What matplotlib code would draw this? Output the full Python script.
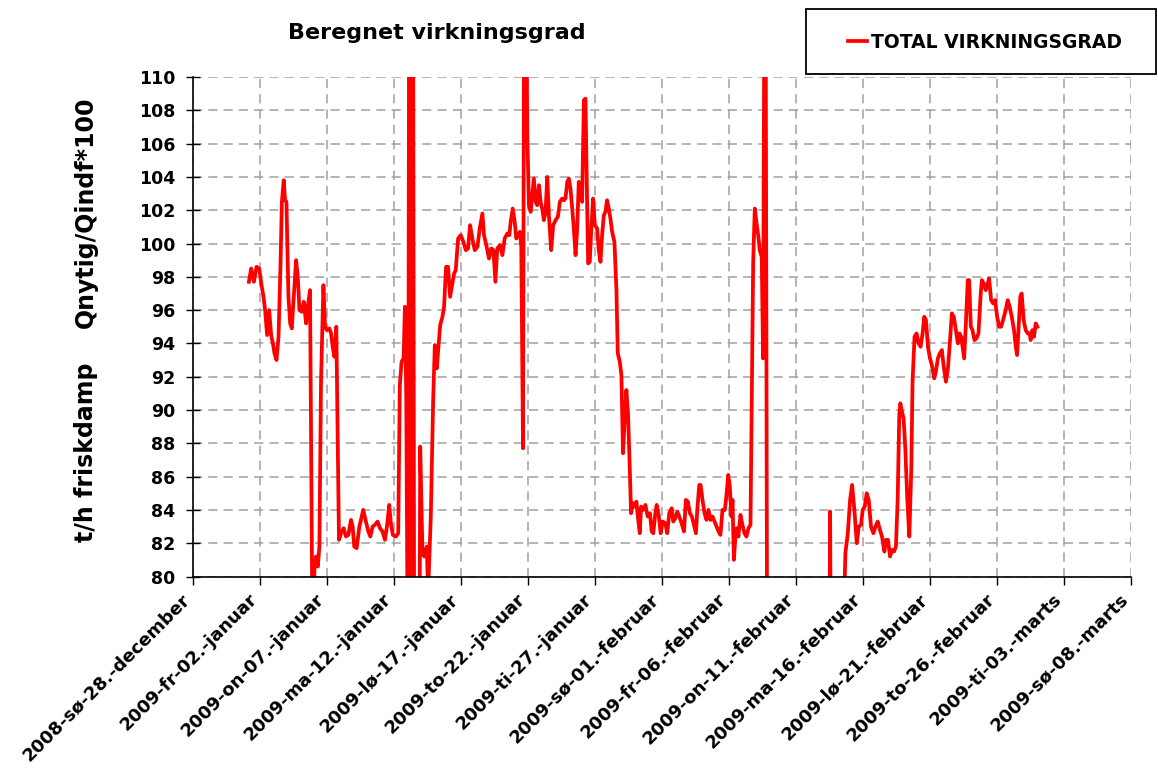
import numpy as np
import matplotlib.pyplot as plt
from matplotlib.patches import Rectangle
from matplotlib.transforms import ScaledTranslation

# days after 2008-12-28
dage1 = [4.17, 4.34, 4.54, 4.74, 4.94, 5.09, 5.26, 5.38, 5.53, 5.68, 5.83, 5.96, 6.08, 6.23, 6.38, 6.53,
         6.63, 6.77, 6.87, 6.97, 7.12, 7.25, 7.37, 7.52, 7.69, 7.82, 7.94, 8.11, 8.26, 8.44, 8.56, 8.73,
         8.90, 9.00, 9.06, 9.18, 9.31, 9.43, 9.55, 9.73, 9.85, 9.98, 10.17, 10.30, 10.42, 10.55, 10.69,
         10.79, 10.89, 11.04, 11.24, 11.41, 11.59, 11.79, 11.91, 12.03, 12.21, 12.41, 12.53, 12.70,
         12.90, 13.08, 13.23, 13.40, 13.57, 13.77, 13.95, 14.14, 14.32, 14.47, 14.64, 14.76, 14.91,
         15.14, 15.31, 15.43, 15.56, 15.71, 15.81, 15.91, 16.00, 16.05, 16.12, 16.20, 16.27, 16.33,
         16.42, 16.50, 16.90, 16.95, 17.12, 17.25, 17.44, 17.54, 17.74, 17.92, 18.04, 18.19, 18.31,
         18.44, 18.61, 18.73, 18.88, 19.03, 19.18, 19.35, 19.48, 19.60, 19.78, 19.98, 20.17, 20.35,
         20.52, 20.67, 20.84, 21.02, 21.22, 21.39, 21.59, 21.71, 21.91, 22.08, 22.26, 22.41, 22.56,
         22.70, 22.90, 23.08, 23.25, 23.45, 23.60, 23.70, 23.85, 24.00, 24.12, 24.24, 24.39, 24.49,
         24.62, 24.69, 24.89, 24.94, 25.06, 25.19, 25.31, 25.43, 25.56, 25.68, 25.81, 25.93, 26.05,
         26.18, 26.30, 26.43, 26.55, 26.72, 26.87, 27.05, 27.22, 27.37, 27.54, 27.67, 27.79, 27.92,
         28.04, 28.16, 28.29, 28.41, 28.54, 28.66, 28.78, 28.91, 29.03, 29.16, 29.28, 29.40, 29.48,
         29.60, 29.73, 29.85, 29.98, 30.15, 30.27, 30.40, 30.52, 30.65, 30.77, 30.89, 31.02, 31.14,
         31.27, 31.44, 31.59, 31.69, 31.84, 31.96, 32.08, 32.21, 32.33, 32.46, 32.58, 32.68, 32.83,
         32.95, 33.08, 33.20, 33.33, 33.43, 33.57, 33.75, 33.92, 34.09, 34.22, 34.34, 34.49, 34.59,
         34.74, 34.89, 35.04, 35.24, 35.38, 35.53, 35.71, 35.83, 35.98, 36.13, 36.28, 36.45, 36.63,
         36.77, 36.92, 37.07, 37.22, 37.37, 37.52, 37.62, 37.77, 37.87, 38.01, 38.16, 38.31, 38.46,
         38.61, 38.76, 38.91, 39.06, 39.21, 39.35, 39.50, 39.68, 39.80, 39.93, 40.05, 40.17, 40.25,
         40.35, 40.45, 40.55, 40.69, 40.84, 40.99, 41.14, 41.29, 41.44, 41.59, 41.69, 41.79, 41.91,
         42.03, 42.18, 42.28, 42.43, 42.53, 42.61, 42.73, 42.83]
vaerdi1 = [97.7, 98.5, 97.7, 98.6, 98.5, 97.6, 96.8, 96.0, 94.5, 96.0, 94.5, 94.0, 93.4, 93.0, 94.4, 98.8,
           102.5, 103.8, 102.6, 102.5, 96.8, 95.2, 94.9, 96.8, 99.0, 98.0, 96.0, 95.9, 96.5, 95.2, 96.2, 97.2,
           78.0, 78.5, 80.4, 81.2, 80.6, 81.8, 91.7, 97.5, 95.0, 94.8, 94.9, 94.6, 93.8, 93.2, 95.0,
           88.7, 82.2, 82.6, 82.9, 82.4, 82.5, 83.4, 83.0, 81.8, 81.7, 83.0, 83.4, 84.0,
           83.3, 82.7, 82.4, 83.0, 83.1, 83.3, 82.9, 82.7, 82.2, 83.0, 84.3, 83.2, 82.5,
           82.4, 82.6, 91.5, 92.9, 93.1, 96.2, 90.7, 78.0, 78.0, 115.0, 115.0, 75.0, 115.0,
           115.0, 75.0, 75.0, 87.8, 81.4, 81.2, 81.8, 79.0, 83.6, 90.7, 93.9, 92.5, 93.8,
           95.1, 95.6, 96.2, 98.6, 98.6, 96.8, 97.6, 98.2, 98.4, 100.3, 100.5, 100.1, 99.6,
           99.7, 101.1, 100.3, 99.6, 99.8, 100.9, 101.8, 100.5, 99.8, 99.1, 99.7, 99.6, 97.7,
           99.7, 99.9, 99.3, 100.3, 100.6, 100.5, 101.3, 102.1, 101.3, 100.3, 100.5, 100.7, 99.8,
           87.7, 112.0, 112.0, 106.5, 102.3, 101.9, 102.9, 103.9, 102.5, 102.3, 103.5, 102.5, 102.1,
           101.4, 101.9, 104.0, 101.7, 99.6, 101.1, 101.4, 101.6, 102.5, 102.7, 102.6, 102.7, 103.7,
           103.9, 103.3, 102.1, 100.9, 99.3, 100.9, 103.7, 103.3, 102.5, 108.6, 108.7, 102.5, 98.8,
           98.9, 101.1, 102.7, 101.1, 100.9, 99.6, 98.9, 100.5, 101.7, 101.9, 102.6, 102.1, 101.5,
           100.7, 100.1, 97.2, 93.4, 92.9, 92.1, 87.4, 89.5, 91.2, 89.7, 86.6, 83.8, 84.4,
           84.2, 84.5, 83.5, 82.6, 84.2, 84.0, 84.3, 83.6, 83.8, 82.7, 82.6, 83.8, 84.3,
           83.7, 82.6, 83.3, 83.2, 82.6, 83.8, 84.1, 83.3, 83.5, 83.9, 83.6, 83.2, 82.7,
           84.6, 84.5, 83.8, 83.6, 83.1, 82.6, 84.0, 85.5, 85.5, 84.6, 83.8, 83.4, 84.0,
           83.4, 83.6, 83.3, 83.0, 82.7, 82.5, 84.0, 84.0, 84.9, 86.1, 85.4, 83.6, 84.6,
           81.0, 82.2, 82.9, 82.4, 83.7, 83.1, 82.6, 82.4, 82.9, 83.1, 90.7, 98.8, 102.1,
           101.3, 100.4, 99.6, 99.2, 93.1, 112.0, 112.0, 75.0]

dage2 = [47.48, 47.53, 47.58, 48.50, 48.67, 48.85, 49.02, 49.17, 49.34, 49.52, 49.67, 49.84, 49.96,
         50.11, 50.26, 50.41, 50.58, 50.76, 50.91, 51.08, 51.25, 51.40, 51.58, 51.70, 51.85, 52.00,
         52.15, 52.30, 52.44, 52.57, 52.69, 52.77, 52.89, 53.01, 53.14, 53.29, 53.44, 53.59, 53.68,
         53.83, 53.98, 54.13, 54.28, 54.43, 54.55, 54.68, 54.83, 54.98, 55.12, 55.30, 55.42, 55.57,
         55.72, 55.87, 55.99, 56.17, 56.32, 56.46, 56.61, 56.76, 56.91, 57.06, 57.18, 57.31, 57.41,
         57.53, 57.66, 57.80, 57.90, 58.03, 58.15, 58.30, 58.45, 58.60, 58.75, 58.85, 58.99, 59.14,
         59.29, 59.39, 59.54, 59.69, 59.84, 59.99, 60.14, 60.29, 60.43, 60.63, 60.78, 60.93, 61.08,
         61.25, 61.38, 61.48, 61.60, 61.72, 61.82, 61.97, 62.12, 62.27, 62.42, 62.49, 62.62, 62.74,
         62.87, 62.99]
vaerdi2 = [75.0, 83.9, 75.0, 76.0, 81.4, 82.6, 84.6, 85.5, 84.0, 82.0, 83.0, 83.1, 84.0,
           84.2, 85.0, 84.6, 83.0, 82.6, 83.0, 83.3, 82.8, 82.4, 81.5, 82.2, 82.2, 81.2,
           81.6, 81.5, 81.8, 84.6, 89.7, 90.4, 89.9, 89.5, 87.7, 84.6, 82.4, 86.6, 91.7,
           94.4, 94.6, 94.0, 93.8, 94.6, 95.6, 95.4, 93.8, 93.1, 92.7, 91.9, 92.3, 93.1,
           93.4, 93.6, 92.7, 91.7, 92.5, 94.0, 95.8, 95.6, 94.8, 94.0, 94.6, 94.4, 93.8,
           93.1, 95.2, 97.8, 97.8, 95.0, 94.8, 94.2, 94.3, 94.6, 96.8, 97.8, 97.6, 97.2,
           97.6, 97.9, 96.6, 96.4, 96.6, 95.6, 95.0, 95.0, 95.4, 96.0, 96.6, 96.2, 95.6,
           94.8, 93.8, 93.3, 95.0, 96.8, 97.0, 95.4, 94.8, 94.6, 94.6, 94.2, 94.8, 94.4,
           95.2, 95.0]

tick_dage = list(range(0, 71, 5))
tick_labels = ["2008-sø-28.-december", "2009-fr-02.-januar", "2009-on-07.-januar",
               "2009-ma-12.-januar", "2009-lø-17.-januar", "2009-to-22.-januar",
               "2009-ti-27.-januar", "2009-sø-01.-februar", "2009-fr-06.-februar",
               "2009-on-11.-februar", "2009-ma-16.-februar", "2009-lø-21.-februar",
               "2009-to-26.-februar", "2009-ti-03.-marts", "2009-sø-08.-marts"]

# one line, gap (no data) between the two parts
x = np.concatenate([dage1, [np.nan], dage2])
y = np.concatenate([vaerdi1, [np.nan], vaerdi2])

fig = plt.figure(figsize=(11.58, 7.71), dpi=100)
ax = fig.add_axes([193 / 1158, 1 - 576.5 / 771, (1131.3 - 193) / 1158, (576.5 - 77) / 771])

line, = ax.plot(x, y, color="#ff0000", lw=2.7, solid_joinstyle="round", label="TOTAL VIRKNINGSGRAD")

ax.set_xlim(0, 70)
ax.set_ylim(80, 110)
ax.set_yticks(range(80, 111, 2))
ax.set_xticks(tick_dage)
ax.set_xticklabels([])
# rotated date labels, nudged left like in the original
shift = ScaledTranslation(-12 / 100, -14 / 100, fig.dpi_scale_trans)
for d, lab in zip(tick_dage, tick_labels):
    ax.text(d, 0, lab, transform=ax.get_xaxis_transform() + shift, rotation=45,
            ha="right", va="top", rotation_mode="anchor", fontsize=13, fontweight="bold")
for t in ax.get_yticklabels():
    t.set_fontsize(12.5)
    t.set_fontweight("bold")

ax.grid(True, color="#a0a0a0", linestyle=(0, (6, 4)), lw=1.1)
ax.set_axisbelow(True)
ax.spines["top"].set_visible(False)
ax.spines["right"].set_visible(False)
ax.spines["left"].set_linewidth(1.2)
ax.spines["bottom"].set_linewidth(1.2)
ax.tick_params(axis="y", direction="inout", length=10, width=1, pad=8)
ax.tick_params(axis="x", direction="out", length=6, width=1)

fig.text(437 / 1158, 1 - 33 / 771, "Beregnet virkningsgrad", ha="center", va="center",
         fontsize=16, fontweight="bold")
fig.text(86 / 1158, 1 - 452 / 771, "t/h friskdamp", rotation=90, ha="center", va="center",
         fontsize=17, fontweight="bold")
fig.text(86 / 1158, 1 - 212 / 771, "Qnytig/Qindf*100", rotation=90, ha="center", va="center",
         fontsize=17, fontweight="bold")

# legend box
fig.patches.append(Rectangle((806 / 1158, 1 - 74 / 771), (1156 - 806) / 1158, 65 / 771,
                             transform=fig.transFigure, fill=False, ec="black", lw=1.3))
fig.legend(handles=[line], loc="center left", bbox_to_anchor=(831 / 1158, 1 - 42 / 771),
           frameon=False, handlelength=1.0, handletextpad=0.25,
           prop={"weight": "bold", "size": 13.5})

fig.savefig("out.png", dpi=100)
